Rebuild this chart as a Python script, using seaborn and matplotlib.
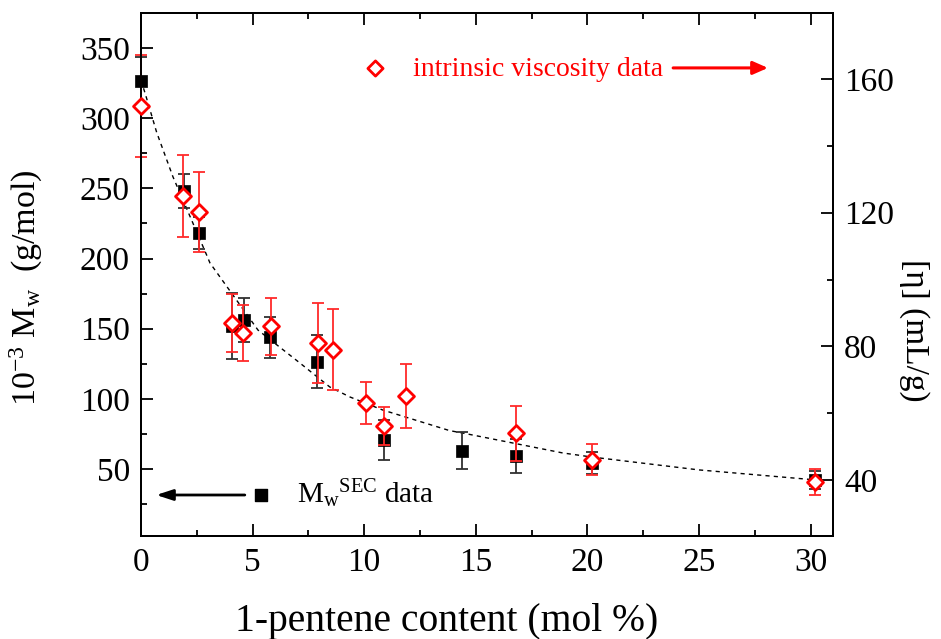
import matplotlib
matplotlib.use("Agg")
import matplotlib.pyplot as plt
import seaborn as sns
from matplotlib.ticker import MultipleLocator

# ---------------- data ----------------
sec_x = [0.0, 1.92, 2.60, 4.09, 4.61, 5.80, 7.89, 10.89, 14.38, 16.82, 20.20, 30.20]
sec_mw = [326.5, 248.3, 218.4, 151.7, 156.4, 143.7, 126.3, 70.7, 63.0, 59.3, 54.0, 42.2]
sec_err = [17.0, 12.1, 11.5, 23.5, 15.7, 14.4, 18.9, 14.3, 13.0, 11.9, 7.8, 6.6]

iv_x = [0.0, 1.89, 2.61, 4.09, 4.58, 5.82, 7.91, 8.61, 10.10, 10.89, 11.89, 16.82, 20.20, 30.20]
iv_eta = [151.9, 125.0, 120.3, 87.1, 84.0, 86.0, 81.0, 79.0, 63.1, 56.1, 65.1, 53.9, 46.1, 39.4]
iv_err = [15.3, 12.4, 12.0, 8.7, 8.4, 8.6, 12.1, 12.1, 6.3, 5.6, 9.7, 8.1, 4.6, 4.0]

fit_x = [0.0, 0.18, 0.70, 1.43, 2.94, 3.09, 5.24, 7.12, 8.46, 9.36, 10.83, 13.83,
         14.41, 18.89, 20.19, 25.0, 30.21]
fit_mw = [327.0, 318.0, 290.0, 258.3, 202.5, 196.8, 149.0, 125.5, 108.4, 101.3, 92.0,
          77.3, 75.6, 61.4, 58.5, 49.3, 42.2]

x_label = "1-pentene content (mol %)"
y_label = r"$\mathrm{10^{-3}\ M_w}$  (g/mol)"
y2_label = "[\u03b7] (mL/g)"
iv_text = "intrinsic viscosity data"
sec_text = r"$\mathrm{M_w{}^{SEC}}$ data"

# ---------------- style ----------------
sns.set_theme(style="ticks")
plt.rcParams["font.family"] = ["Liberation Serif", "DejaVu Serif"]
plt.rcParams["mathtext.fontset"] = "custom"
plt.rcParams["mathtext.rm"] = "Liberation Serif"
plt.rcParams["mathtext.it"] = "Liberation Serif:italic"
plt.rcParams["mathtext.bf"] = "Liberation Serif:bold"
plt.rcParams["text.color"] = "black"
plt.rcParams["axes.labelcolor"] = "black"
plt.rcParams["xtick.color"] = "black"
plt.rcParams["ytick.color"] = "black"

fig = plt.figure(figsize=(9.41, 6.39), dpi=100)
ax = fig.add_axes([141 / 941, 1 - 536 / 639, 692 / 941, 523 / 639])
ax2 = ax.twinx()

# fitted dashed curve
sns.lineplot(x=fit_x, y=fit_mw, ax=ax, color="black", lw=1.0,
             linestyle=(0, (3, 3)), zorder=1)

# SEC data (left axis)
ax.errorbar(sec_x, sec_mw, yerr=sec_err, fmt="none", ecolor="#303030",
            elinewidth=1.3, capsize=4.5, capthick=1.3, zorder=2, clip_on=False)
sns.scatterplot(x=sec_x, y=sec_mw, ax=ax, marker="s", s=80, color="black",
                edgecolor="black", linewidth=0.5, zorder=3, clip_on=False)

# intrinsic viscosity data (right axis)
ax2.errorbar(iv_x, iv_eta, yerr=iv_err, fmt="none", ecolor="#ff2a2a",
             elinewidth=1.3, capsize=4.5, capthick=1.3, zorder=2, clip_on=False)
sns.scatterplot(x=iv_x, y=iv_eta, ax=ax2, marker="D", s=66, color="white",
                edgecolor="red", linewidth=2.0, zorder=3, clip_on=False)

# axes limits and ticks
ax.set_xlim(0, 31)
ax.set_ylim(2.2, 375)
ax2.set_ylim(23.2, 179.8)

ax.xaxis.set_major_locator(MultipleLocator(5))
ax.xaxis.set_minor_locator(MultipleLocator(2.5))
ax.yaxis.set_major_locator(MultipleLocator(50))
ax.yaxis.set_minor_locator(MultipleLocator(25))
ax2.yaxis.set_major_locator(MultipleLocator(40))
ax2.yaxis.set_minor_locator(MultipleLocator(20))

for a in (ax, ax2):
    for sp in a.spines.values():
        sp.set_linewidth(1.4)
        sp.set_color("black")
    a.grid(False)

ax.tick_params(which="both", direction="in", top=True, right=False,
               labelsize=24, width=1.3, colors="black", pad=8)
ax.tick_params(which="major", length=8.5)
ax.tick_params(which="minor", length=4.5)
ax2.tick_params(which="both", direction="in", labelsize=24, width=1.3,
                colors="black", pad=8)
ax2.tick_params(which="major", length=8.5)
ax2.tick_params(which="minor", length=4.5)

# axis labels
ax.set_xlabel(x_label, fontsize=28.5, color="black")
ax.xaxis.label.set(ha="center", va="center")
ax.xaxis.set_label_coords(0.442, -0.163)

ax.set_ylabel(y_label, fontsize=24.5, color="black")
ax.yaxis.label.set(rotation=90, rotation_mode="default", ha="center", va="center")
ax.yaxis.set_label_coords(-0.165, 0.474)

ax2.set_ylabel(y2_label, fontsize=24, color="black")
ax2.yaxis.label.set(rotation=270, rotation_mode="default", ha="center", va="center")
ax2.yaxis.set_label_coords(1.118, 0.394)

# in-plot legend annotations
ax2.scatter([0.338], [0.895], transform=ax2.transAxes, marker="D", s=60,
            facecolor="white", edgecolor="red", linewidth=2.0, clip_on=False, zorder=5)
ax2.text(0.393, 0.8795, iv_text, color="red", fontsize=20,
         transform=ax2.transAxes, ha="left", va="baseline")
ax2.annotate("", xy=(0.906, 0.895), xytext=(0.769, 0.895),
             xycoords="axes fraction", textcoords="axes fraction",
             arrowprops=dict(arrowstyle="-|>,head_length=0.5,head_width=0.22",
                             color="red", lw=2.2, mutation_scale=18,
                             shrinkA=0, shrinkB=0))

ax2.scatter([0.1734], [0.0784], transform=ax2.transAxes, marker="s", s=80,
            color="black", clip_on=False, zorder=5)
ax2.text(0.225, 0.0625, sec_text, color="black", fontsize=21,
         transform=ax2.transAxes, ha="left", va="baseline")
ax2.annotate("", xy=(0.022, 0.0784), xytext=(0.150, 0.0784),
             xycoords="axes fraction", textcoords="axes fraction",
             arrowprops=dict(arrowstyle="-|>,head_length=0.55,head_width=0.18",
                             color="black", lw=2.0, mutation_scale=18,
                             shrinkA=0, shrinkB=0))

fig.savefig("out.png", dpi=100)
